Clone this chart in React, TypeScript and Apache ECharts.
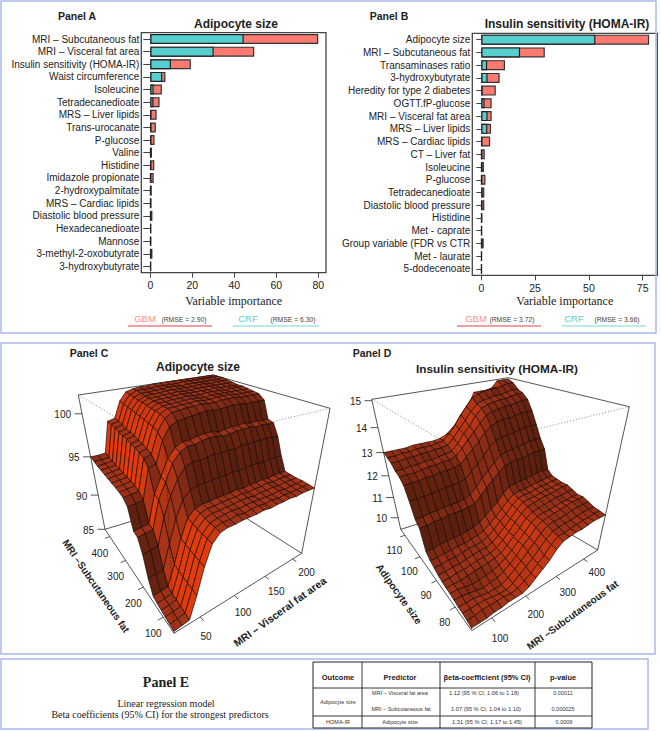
import React, { useEffect, useRef } from "react";
import * as echarts from "echarts";

const SANS = '"Liberation Sans", Arial, sans-serif';
const SERIF = '"Liberation Serif", "Times New Roman", serif';
const RED = "#fd7a70";
const TEAL = "#58cfcf";

const catsA = ["MRI – Subcutaneous fat", "MRI – Visceral fat area", "Insulin sensitivity (HOMA-IR)", "Waist circumference", "Isoleucine", "Tetradecanedioate", "MRS – Liver lipids", "Trans-urocanate", "P-glucose", "Valine", "Histidine", "Imidazole propionate", "2-hydroxypalmitate", "MRS – Cardiac lipids", "Diastolic blood pressure", "Hexadecanedioate", "Mannose", "3-methyl-2-oxobutyrate", "3-hydroxybutyrate"];
const gbmA = [80, 49.5, 19.3, 7.2, 5.5, 4.4, 3, 2.6, 2, 0.8, 1.9, 1.6, 0.7, 0.6, 1, 0.3, 0.5, 1, 0.3];
const crfA = [44.5, 30.2, 9.8, 5.7, 1.6, 1.5, 0.3, 0.3, 0.3, 0.1, 0.2, 0.1, 0.1, 0.1, 0.1, 0.3, 0.1, 0.2, 0.2];

const catsB = ["Adipocyte size", "MRI – Subcutaneous fat", "Transaminases ratio", "3-hydroxybutyrate", "Heredity for type 2 diabetes", "OGTT.fP-glucose", "MRI – Visceral fat area", "MRS – Liver lipids", "MRS – Cardiac lipids", "CT – Liver fat", "Isoleucine", "P-glucose", "Tetradecanedioate", "Diastolic blood pressure", "Histidine", "Met - caprate", "Group variable (FDR vs CTR", "Met - laurate", "5-dodecenoate"];
const gbmB = [78, 29.5, 11, 8.5, 6.7, 4.8, 4.8, 4.5, 4.1, 1.6, 1.2, 1.9, 1.4, 1.4, 0.5, 0.3, 1.1, 0.2, 0.2];
const crfB = [53, 18, 2.7, 2.9, 0.6, 1.5, 2.9, 2.8, 0.2, 0.1, 0.1, 0.1, 0.6, 0.2, 0.1, 0.1, 0.1, 0.1, 0.1];

const ticksA = [0, 20, 40, 60, 80];
const ticksB = [0, 25, 50, 75];

// z(visceral index, subcutaneous index); one row per subcutaneous step
const surfaceC = [
  [85.2,85.3,85.4,87.6,90.2,92.2,93.0,93.2,93.2,93.3,93.3,93.3,93.4,93.3,93.4,93.4,93.5,93.4,93.5,93.5,93.5],
  [85.3,85.4,85.5,87.7,90.3,92.3,93.1,93.3,93.3,93.4,93.3,93.4,93.5,93.4,93.5,93.4,93.5,93.5,93.5,93.6,93.6],
  [85.4,85.5,85.6,87.8,90.4,92.3,93.1,93.3,93.4,93.5,93.4,93.5,93.5,93.5,93.5,93.5,93.6,93.5,93.6,93.6,93.7],
  [85.5,85.6,85.7,87.9,90.5,92.4,93.2,93.4,93.4,93.5,93.5,93.6,93.6,93.5,93.6,93.6,93.7,93.6,93.7,93.7,93.7],
  [85.6,85.7,85.8,88.0,90.6,92.5,93.3,93.5,93.5,93.6,93.6,93.6,93.7,93.6,93.7,93.7,93.8,93.7,93.8,93.8,93.8],
  [85.8,85.9,86.0,88.2,90.8,92.7,93.4,93.6,93.6,93.7,93.7,93.7,93.8,93.7,93.8,93.8,93.9,93.8,93.9,93.9,93.9],
  [87.2,87.3,87.4,90.0,92.5,94.2,95.0,95.2,95.2,95.3,95.3,95.3,95.4,95.3,95.4,95.5,95.5,95.4,95.5,95.5,95.5],
  [89.4,89.5,89.6,92.5,94.5,96.0,97.0,97.3,97.3,97.4,97.5,97.4,97.5,97.4,97.6,97.6,97.6,97.6,97.6,97.6,97.5],
  [90.8,90.9,91.0,94.0,95.6,97.3,98.2,98.6,98.6,98.8,98.9,98.9,98.7,98.8,98.9,98.9,99.0,98.8,98.9,98.8,98.8],
  [91.0,91.1,91.2,94.2,95.8,97.5,98.4,98.8,98.8,99.0,99.1,99.1,98.9,99.0,99.1,99.1,99.2,99.0,99.1,99.0,99.0],
  [93.2,93.3,93.4,96.6,96.8,99.0,100.2,100.6,100.7,100.8,100.9,101.0,100.9,100.9,101.0,101.0,101.0,100.9,100.9,100.9,100.9],
  [93.8,93.9,94.0,97.3,97.5,99.6,100.8,101.2,101.3,101.4,101.4,101.5,101.4,101.4,101.5,101.5,101.5,101.4,101.4,101.4,101.4],
  [94.0,94.1,94.2,97.6,97.8,99.9,101.0,101.4,101.4,101.5,101.5,101.6,101.5,101.5,101.6,101.6,101.6,101.5,101.5,101.5,101.5],
  [94.1,94.2,94.3,97.8,98.0,100.0,101.1,101.4,101.5,101.5,101.6,101.6,101.6,101.5,101.6,101.6,101.6,101.6,101.6,101.6,101.6],
  [94.2,94.3,94.4,97.9,98.1,100.1,101.1,101.5,101.5,101.6,101.6,101.7,101.6,101.6,101.7,101.7,101.7,101.6,101.7,101.7,101.7],
  [94.3,94.4,94.5,98.1,98.3,100.2,101.2,101.5,101.6,101.6,101.7,101.7,101.7,101.7,101.7,101.7,101.8,101.7,101.7,101.7,101.7],
  [94.4,94.5,94.6,98.2,98.4,100.3,101.3,101.6,101.6,101.7,101.7,101.8,101.7,101.7,101.8,101.8,101.8,101.8,101.8,101.8,101.8],
  [94.5,94.6,94.7,98.3,98.5,100.4,101.3,101.6,101.7,101.7,101.8,101.8,101.8,101.8,101.8,101.9,101.9,101.8,101.9,101.9,101.9],
  [94.6,94.7,94.8,98.5,98.7,100.5,101.4,101.7,101.7,101.8,101.8,101.9,101.9,101.8,101.9,101.9,101.9,101.9,101.9,101.9,102.0],
  [94.8,94.8,94.9,98.6,98.8,100.6,101.5,101.8,101.8,101.8,101.9,101.9,101.9,101.9,102.0,102.0,102.0,102.0,102.0,102.0,102.0],
  [95.0,95.0,95.1,98.7,98.9,100.7,101.6,101.8,101.9,101.9,102.0,102.0,102.0,102.0,102.0,102.0,102.0,102.0,102.0,102.0,102.0],
];

// z(subcutaneous index, adipocyte index); one row per adipocyte step
const surfaceD = [
  [9.5,9.5,9.5,9.55,9.55,9.6,9.6,9.6,9.7,9.9,10.1,10.3,10.6,10.8,10.85,10.9,10.9,10.95,11.0,11.0,11.0],
  [9.55,9.55,9.6,9.6,9.6,9.6,9.55,9.6,9.75,9.9,10.15,10.35,10.65,10.85,10.85,10.9,10.95,11.0,11.0,11.05,11.05],
  [9.6,9.6,9.6,9.6,9.55,9.5,9.5,9.6,9.8,10.0,10.2,10.45,10.7,10.9,10.95,11.0,11.0,11.05,11.1,11.1,11.1],
  [9.6,9.6,9.6,9.55,9.5,9.5,9.5,9.65,9.85,10.05,10.3,10.55,10.8,11.0,11.05,11.05,11.1,11.15,11.2,11.2,11.2],
  [9.65,9.65,9.6,9.55,9.5,9.55,9.6,9.7,9.9,10.1,10.4,10.6,10.9,11.05,11.1,11.15,11.2,11.25,11.3,11.3,11.3],
  [9.7,9.7,9.65,9.6,9.6,9.65,9.7,9.8,9.95,10.15,10.4,10.65,10.95,11.1,11.15,11.15,11.2,11.25,11.25,11.3,11.3],
  [9.7,9.7,9.7,9.75,9.8,9.8,9.85,9.9,10.0,10.2,10.45,10.7,11.0,11.15,11.2,11.25,11.3,11.35,11.35,11.4,11.4],
  [9.75,9.75,9.8,9.8,9.85,9.9,9.9,9.95,10.05,10.25,10.5,10.8,11.05,11.25,11.3,11.35,11.4,11.4,11.45,11.5,11.5],
  [9.8,9.8,9.85,9.85,9.9,9.95,10.0,10.0,10.1,10.3,10.55,10.8,11.1,11.3,11.35,11.35,11.4,11.45,11.45,11.5,11.5],
  [9.9,9.9,9.95,9.95,10.0,10.05,10.05,10.1,10.2,10.4,10.65,10.85,11.15,11.35,11.4,11.4,11.45,11.5,11.5,11.55,11.55],
  [10.0,10.0,10.05,10.05,10.1,10.1,10.15,10.2,10.3,10.5,10.7,10.95,11.2,11.4,11.45,11.45,11.5,11.55,11.55,11.6,11.6],
  [10.2,10.2,10.25,10.25,10.3,10.3,10.35,10.4,10.5,10.7,10.9,11.1,11.4,11.6,11.65,11.7,11.7,11.75,11.8,11.8,11.8],
  [11.0,11.0,11.05,11.05,11.1,11.1,11.1,11.15,11.2,11.45,11.7,11.95,12.2,12.4,12.45,12.5,12.5,12.55,12.6,12.6,12.6],
  [11.2,11.2,11.25,11.25,11.3,11.3,11.3,11.35,11.45,11.7,12.0,12.25,12.5,12.75,12.8,12.85,12.9,12.95,13.0,13.0,13.0],
  [11.8,11.8,11.8,11.85,11.85,11.9,11.9,11.95,12.0,12.25,12.5,12.75,13.05,13.25,13.3,13.35,13.4,13.45,13.5,13.5,13.5],
  [12.3,12.3,12.3,12.35,12.35,12.4,12.4,12.45,12.5,12.75,13.0,13.25,13.55,13.75,13.85,13.9,13.9,13.95,14.0,14.0,14.0],
  [12.5,12.5,12.5,12.55,12.6,12.6,12.65,12.65,12.75,13.0,13.3,13.55,13.85,14.1,14.2,14.25,14.3,14.3,14.35,14.4,14.4],
  [12.6,12.6,12.65,12.65,12.7,12.7,12.75,12.8,12.85,13.1,13.45,13.7,14.05,14.3,14.4,14.45,14.5,14.5,14.55,14.6,14.6],
  [12.8,12.8,12.85,12.85,12.9,12.9,12.95,12.95,13.0,13.25,13.55,13.85,14.15,14.4,14.5,14.55,14.6,14.6,14.65,14.7,14.7],
  [12.9,12.9,12.95,12.95,13.0,13.0,13.0,13.05,13.1,13.35,13.65,14.0,14.3,14.6,14.7,14.75,14.8,14.8,14.85,14.9,14.9],
  [13.0,13.0,13.0,13.0,13.05,13.05,13.05,13.05,13.1,13.2,13.4,13.6,13.9,14.2,14.7,14.7,14.7,14.75,15.0,15.0,15.0],
];

const zTicksC = [85, 90, 95, 100];
const xTicksC = [50, 100, 150, 200];
const yTicksC = [100, 200, 300, 400];
const zTicksD = [10, 11, 12, 13, 14, 15];
const xTicksD = [100, 200, 300, 400];
const yTicksD = [80, 90, 100, 110];

type Pt = [number, number];
type Box3 = {
  bN: Pt; bR: Pt; bB: Pt; bL: Pt;
  tN: Pt; tR: Pt; tB: Pt; tL: Pt;
  xMin: number; xMax: number; yMin: number; yMax: number; zMin: number; zMax: number;
};

const boxC: Box3 = {
  bN: [174, 633.3], bR: [301.7, 553.3], bB: [212.3, 496.7], bL: [105, 529.3],
  tN: [165, 446.7], tR: [330, 408.3], tB: [213.3, 375], tL: [78.3, 395],
  xMin: 15, xMax: 218, yMin: 51, yMax: 433, zMin: 85, zMax: 102,
};
const boxD: Box3 = {
  bN: [471.7, 630.7], bR: [597.7, 550], bB: [506.7, 496.7], bL: [400.7, 529.3],
  tN: [456, 448.7], tR: [629.3, 406.7], tB: [508.3, 377.7], tL: [371.7, 399.3],
  xMin: 46, xMax: 456, yMin: 72, yMax: 113, zMin: 9.4, zMax: 15.05,
};

const warp = (t: number, k: number) => (t * k) / (1 - t + t * k);
const bil = (a: Pt, b: Pt, c: Pt, d: Pt, u: number, v: number): Pt => [
  a[0] * (1 - u) * (1 - v) + b[0] * u * (1 - v) + d[0] * (1 - u) * v + c[0] * u * v,
  a[1] * (1 - u) * (1 - v) + b[1] * u * (1 - v) + d[1] * (1 - u) * v + c[1] * u * v,
];
function project(B: Box3, u: number, v: number, w: number): Pt {
  const uu = warp(u, 1.25), vv = warp(v, 1.25), ww = warp(w, 0.82);
  const p0 = bil(B.bN, B.bR, B.bB, B.bL, uu, vv);
  const p1 = bil(B.tN, B.tR, B.tB, B.tL, uu, vv);
  return [p0[0] + (p1[0] - p0[0]) * ww, p0[1] + (p1[1] - p0[1]) * ww];
}

const hex = (s: string) => [parseInt(s.slice(1, 3), 16), parseInt(s.slice(3, 5), 16), parseInt(s.slice(5, 7), 16)];
const DARK = hex("#571e0e"), MID = hex("#a23218"), BRIGHT = hex("#e83c0c");
function shade(t: number) {
  const a = t < 0.5 ? DARK : MID, b = t < 0.5 ? MID : BRIGHT;
  const f = t < 0.5 ? t * 2 : (t - 0.5) * 2;
  return `rgb(${a.map((x, i) => Math.round(x + (b[i] - x) * f)).join(",")})`;
}

function surfaceSeries(B: Box3, Z: number[][]) {
  const n = Z.length - 1;
  const m = Z[0].length - 1;
  const data: number[][] = [];
  for (let i = m - 1; i >= 0; i--) for (let j = n - 1; j >= 0; j--) data.push([i, j]);
  const W = (z: number) => (z - B.zMin) / (B.zMax - B.zMin);
  return {
    type: "custom",
    coordinateSystem: "none",
    silent: true,
    z: 2,
    data,
    renderItem: (_p: any, api: any) => {
      const i = api.value(0), j = api.value(1);
      const a = W(Z[j][i]), b = W(Z[j][i + 1]), c = W(Z[j + 1][i + 1]), d = W(Z[j + 1][i]);
      const pts = [
        project(B, i / m, j / n, a),
        project(B, (i + 1) / m, j / n, b),
        project(B, (i + 1) / m, (j + 1) / n, c),
        project(B, i / m, (j + 1) / n, d),
      ];
      const su = ((b - a + c - d) / 2) * m;
      const sv = ((d - a + c - b) / 2) * n;
      const t = Math.max(0, Math.min(1, 0.5 + (0.5 * (su - sv)) / Math.sqrt(1 + su * su + sv * sv)));
      return {
        type: "polygon",
        shape: { points: pts },
        style: { fill: shade(t), stroke: "#1a0a05", lineWidth: 0.7 },
      };
    },
  };
}

const txt = (text: string, x: number, y: number, o: any = {}) => ({
  type: "text",
  x,
  y,
  rotation: o.rotation ?? 0,
  z: 20,
  silent: true,
  style: {
    text,
    fontFamily: o.family ?? SANS,
    fontSize: o.size ?? 10,
    fontWeight: o.weight ?? "normal",
    fill: o.fill ?? "#222",
    align: o.align ?? "center",
    verticalAlign: "middle",
  },
});
const seg = (a: Pt, b: Pt, stroke = "#2a2a2a", lineWidth = 0.8, z = 1, dash?: number[]) => ({
  type: "line",
  z,
  silent: true,
  shape: { x1: a[0], y1: a[1], x2: b[0], y2: b[1] },
  style: { stroke, lineWidth, lineDash: dash },
});
const frame = (x: number, y: number, width: number, height: number) => ({
  type: "rect",
  z: 0,
  silent: true,
  shape: { x, y, width, height },
  style: { fill: "none", stroke: "#a9b9ea", lineWidth: 1.5 },
});

function boxLines(B: Box3) {
  const dash = [1, 2];
  return [
    seg(B.tL, B.tB), seg(B.tB, B.tR), seg(B.tL, B.bL), seg(B.tR, B.bR),
    seg(B.bL, B.bN), seg(B.bN, B.bR), seg(B.bL, B.bB), seg(B.bR, B.bB),
    seg(B.tL, B.tN, "#555", 0.7, 1, dash), seg(B.tR, B.tN, "#555", 0.7, 1, dash),
    seg(B.tN, B.bN, "#1a0a05", 0.7, 10, dash),
  ];
}

function axisMarks(B: Box3, zT: number[], xT: number[], yT: number[], xOff: [Pt, Pt], yOff: Pt) {
  const out: any[] = [];
  zT.forEach((z) => {
    const p = project(B, 0, 1, (z - B.zMin) / (B.zMax - B.zMin));
    out.push(seg(p, [p[0] - 7.5, p[1]], "#2a2a2a", 0.8, 1));
    out.push(txt(String(z), p[0] - 11, p[1] + 1, { align: "right", size: 10 }));
  });
  xT.forEach((x, idx) => {
    const u = (x - B.xMin) / (B.xMax - B.xMin);
    const p = project(B, u, 0, 0);
    const e = project(B, u, -0.035, 0);
    out.push(seg(p, e, "#2a2a2a", 0.8, 1));
    const f = idx / (xT.length - 1);
    out.push(txt(String(x), p[0] + xOff[0][0] + (xOff[1][0] - xOff[0][0]) * f, p[1] + xOff[0][1] + (xOff[1][1] - xOff[0][1]) * f, { size: 10 }));
  });
  yT.forEach((y) => {
    const v = (y - B.yMin) / (B.yMax - B.yMin);
    const p = project(B, 0, v, 0);
    const e = project(B, -0.035, v, 0);
    out.push(seg(p, e, "#2a2a2a", 0.8, 1));
    out.push(txt(String(y), p[0] + yOff[0], p[1] + yOff[1], { size: 10 }));
  });
  return out;
}

function barAxes(idx: number, cats: string[], ticks: number[], min: number, max: number, tickLen: number, margin: number, nameGap: number) {
  const x = {
    type: "value", gridIndex: idx, min, max, splitLine: { show: false },
    axisLine: { show: false },
    axisTick: { show: true, length: 5, customValues: ticks, lineStyle: { color: "#444", width: 1 } },
    axisLabel: { customValues: ticks, fontFamily: SANS, fontSize: 10.5, color: "#222", margin: 7, showMinLabel: true, showMaxLabel: true },
    name: "Variable importance", nameLocation: "middle", nameGap,
    nameTextStyle: { fontFamily: SERIF, fontSize: 12, color: "#222" },
  };
  const y = {
    type: "category", gridIndex: idx, data: cats, inverse: true,
    axisLine: { show: false },
    axisTick: { show: true, length: tickLen, alignWithLabel: true, lineStyle: { color: "#444", width: 1 } },
    axisLabel: { interval: 0, fontFamily: SANS, fontSize: 10, color: "#222", margin },
  };
  return { x, y };
}

function barSeries(idx: number, gbm: number[], crf: number[]) {
  const base = { type: "bar", xAxisIndex: idx, yAxisIndex: idx, barWidth: 10, barGap: "-100%", silent: true };
  return [
    { ...base, name: "GBM", data: gbm, itemStyle: { color: RED, borderColor: "#333", borderWidth: 1.2 } },
    { ...base, name: "CRF", data: crf, itemStyle: { color: TEAL, borderColor: "#222", borderWidth: 1.2 } },
  ];
}

export default function App() {
  const ref = useRef<HTMLDivElement>(null);
  useEffect(() => {
    const chart = echarts.init(ref.current!, null, { renderer: "svg" });
    const a = barAxes(0, catsA, ticksA, -4.3, 83.7, 7, 2, 22.5);
    const b = barAxes(1, catsB, ticksB, -4.2, 81.8, 5, 2, 20);
    const graphicEls: any[] = [
      frame(1, 1, 655, 332),
      frame(1, 343, 654, 311),
      frame(1, 659, 647, 70),

      txt("Panel A", 77, 16, { weight: "bold", size: 10.5 }),
      txt("Adipocyte size", 236, 24, { weight: "bold", size: 12 }),
      txt("Panel B", 389, 16, { weight: "bold", size: 10.5 }),
      txt("Insulin sensitivity (HOMA-IR)", 567, 24, { weight: "bold", size: 12 }),

      txt("GBM", 145, 318, { fill: "#f8908a", size: 9.5 }),
      txt("(RMSE = 2.90)", 184, 319, { fill: "#444", size: 6.8 }),
      txt("CRF", 248, 318, { fill: "#5fd0d0", size: 9.5 }),
      txt("(RMSE = 6.30)", 293, 319, { fill: "#444", size: 6.8 }),
      seg([128, 326], [212, 326], "#e8808a", 1.6, 5),
      seg([233, 326], [319, 326], "#a0e5e5", 1.6, 5),
      txt("GBM", 476, 318, { fill: "#f8908a", size: 9.5 }),
      txt("(RMSE = 3.72)", 512, 319, { fill: "#444", size: 6.8 }),
      txt("CRF", 574, 318, { fill: "#5fd0d0", size: 9.5 }),
      txt("(RMSE = 3.66)", 617, 319, { fill: "#444", size: 6.8 }),
      seg([457, 326], [541, 326], "#e8808a", 1.6, 5),
      seg([562, 326], [646, 326], "#a0e5e5", 1.6, 5),

      txt("Panel C", 89, 353, { weight: "bold", size: 10.5 }),
      txt("Adipocyte size", 198, 367, { weight: "bold", size: 12 }),
      txt("Panel D", 372, 353, { weight: "bold", size: 10.5 }),
      txt("Insulin sensitivity (HOMA-IR)", 497, 369, { weight: "bold", size: 11.8 }),

      ...boxLines(boxC),
      ...boxLines(boxD),
      ...axisMarks(boxC, zTicksC, xTicksC, yTicksC, [[5.7, 19.7], [14, 13.3]], [-10, 16.5]),
      ...axisMarks(boxD, zTicksD, xTicksD, yTicksD, [[8.3, 20.7], [13.3, 13]], [-10.5, 15]),
      txt("MRI –Subcutaneous fat", 96, 586, { weight: "bold", size: 10, rotation: -0.97 }),
      txt("MRI – Visceral fat area", 280, 612, { weight: "bold", size: 10.5, rotation: 0.625 }),
      txt("Adipocyte size", 399, 594, { weight: "bold", size: 10.2, rotation: -0.95 }),
      txt("MRI –Subcutaneous fat", 572.5, 615, { weight: "bold", size: 10, rotation: 0.63 }),

      txt("Panel E", 166, 682, { family: SERIF, size: 14, weight: "bold", fill: "#222" }),
      txt("Linear regression model", 166, 703, { family: SERIF, size: 10 }),
      txt("Beta coefficients (95% CI) for the strongest predictors", 160, 714, { family: SERIF, size: 10 }),

      { type: "rect", z: 5, silent: true, shape: { x: 313, y: 662, width: 279, height: 66 }, style: { fill: "#fff", stroke: "#222", lineWidth: 1 } },
      seg([362, 662], [362, 728], "#222", 0.9, 6),
      seg([440, 662], [440, 728], "#222", 0.9, 6),
      seg([535, 662], [535, 728], "#222", 0.9, 6),
      seg([313, 688], [592, 688], "#222", 0.9, 6),
      seg([313, 716], [592, 716], "#222", 0.9, 6),
      txt("Outcome", 338, 677, { weight: "bold", size: 7.5 }),
      txt("Predictor", 400, 677, { weight: "bold", size: 7.5 }),
      txt("βeta-coefficient (95% CI)", 487, 677, { weight: "bold", size: 7.5 }),
      txt("p-value", 563, 677, { weight: "bold", size: 7.5 }),
      txt("Adipocyte size", 338, 702, { size: 5.5, fill: "#333" }),
      txt("MRI – Visceral fat area", 400, 693, { size: 5.5, fill: "#333" }),
      txt("1.12 (95 % CI, 1.06 to 1.18)", 484, 693, { size: 5.7, fill: "#333" }),
      txt("0.00011", 563, 693, { size: 5.5, fill: "#333" }),
      txt("MRI – Subcutaneous fat", 401, 709, { size: 5.5, fill: "#333" }),
      txt("1.07 (95 % CI, 1.04 to 1.10)", 486, 709, { size: 5.7, fill: "#333" }),
      txt("0.000025", 563, 709, { size: 5.5, fill: "#333" }),
      txt("HOMA-IR", 338, 722, { size: 5.5, fill: "#333" }),
      txt("Adipocyte size", 400, 722, { size: 5.5, fill: "#333" }),
      txt("1.31 (95 % CI, 1.17 to 1.45)", 487, 722, { size: 5.7, fill: "#333" }),
      txt("0.0009", 564, 722, { size: 5.5, fill: "#333" }),
    ];
    chart.setOption({
      animation: false,
      backgroundColor: "#fff",
      grid: [
        { left: 141.3, top: 32.7, width: 184.7, height: 240, show: true, borderColor: "#444", borderWidth: 1.3, backgroundColor: "transparent" },
        { left: 472.3, top: 33.3, width: 185, height: 242, show: true, borderColor: "#444", borderWidth: 1.3, backgroundColor: "transparent" },
      ],
      xAxis: [a.x, b.x],
      yAxis: [a.y, b.y],
      series: [
        ...barSeries(0, gbmA, crfA),
        ...barSeries(1, gbmB, crfB),
        surfaceSeries(boxC, surfaceC),
        surfaceSeries(boxD, surfaceD),
      ],
      graphic: { elements: graphicEls },
    });
    return () => chart.dispose();
  }, []);
  return <div ref={ref} style={{ position: "absolute", left: 0, top: 0, width: 661, height: 731 }} />;
}
